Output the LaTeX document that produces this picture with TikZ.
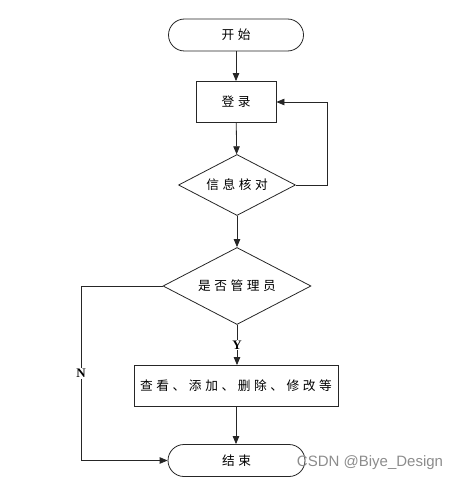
\documentclass[tikz,border=0pt]{standalone}
\usepackage{fontspec}
\setmainfont{Liberation Serif}
\newfontfamily\cjk[LetterSpace=28]{Noto Sans CJK SC}
\newfontfamily\wmfont{Liberation Sans}
\usetikzlibrary{shapes.geometric,arrows.meta}
\tikzset{
  terminal/.style={draw, rectangle, rounded corners=16pt, minimum width=135pt, minimum height=32pt, font=\cjk\fontsize{12.7}{14}\selectfont},
  process/.style={draw, rectangle, minimum height=41pt, font=\cjk\fontsize{12.7}{14}\selectfont},
  decision/.style={draw, diamond, aspect=2, inner sep=0pt, font=\cjk\fontsize{12.7}{14}\selectfont},
  tag/.style={fill=white, inner sep=1pt, font=\bfseries\fontsize{13}{15}\selectfont}
}
\begin{document}
\begin{tikzpicture}[x=1pt, y=-1pt, line width=0.8pt, draw=black!85, >={Triangle[length=8pt,width=6.5pt]}]
	\useasboundingbox (0,0) rectangle (461,484);
	\node[terminal] (start) at (236, 35) {开始};
	\node[process, minimum width=80pt] (login) at (236, 102) {登录};
	\node[decision, minimum width=117pt, minimum height=61pt] (check) at (237, 185) {信息核对};
	\node[decision, minimum width=148pt, minimum height=77pt] (admin) at (237, 286) {是否管理员};
	\node[process, minimum width=204pt] (manage) at (236, 386) {查看、添加、删除、修改等};
	\node[terminal, minimum width=137pt] (stop) at (236.5, 460.5) {结束};
	\coordinate (back) at (327, 185);
	\coordinate (nleft) at (81, 286);

	\path [->] (start) edge (login);
	\path [->] (login) edge (check);
	\path [->] (check) edge (admin);
	\path [->] (admin.south) edge node[tag] {Y} (admin.south |- manage.north);
	\path [->] (manage.south) edge (manage.south |- stop.north);
	\draw [->] (check.east) -- (back) |- (login.east);
	\draw [->] (admin.west) -- (nleft) |- node[tag, pos=0.25] {N} (stop.west);

	\node[text=black!45, font=\wmfont\fontsize{15}{17}\selectfont] (mark) at (370, 463) {CSDN @Biye\_Design};
\end{tikzpicture}
\end{document}
